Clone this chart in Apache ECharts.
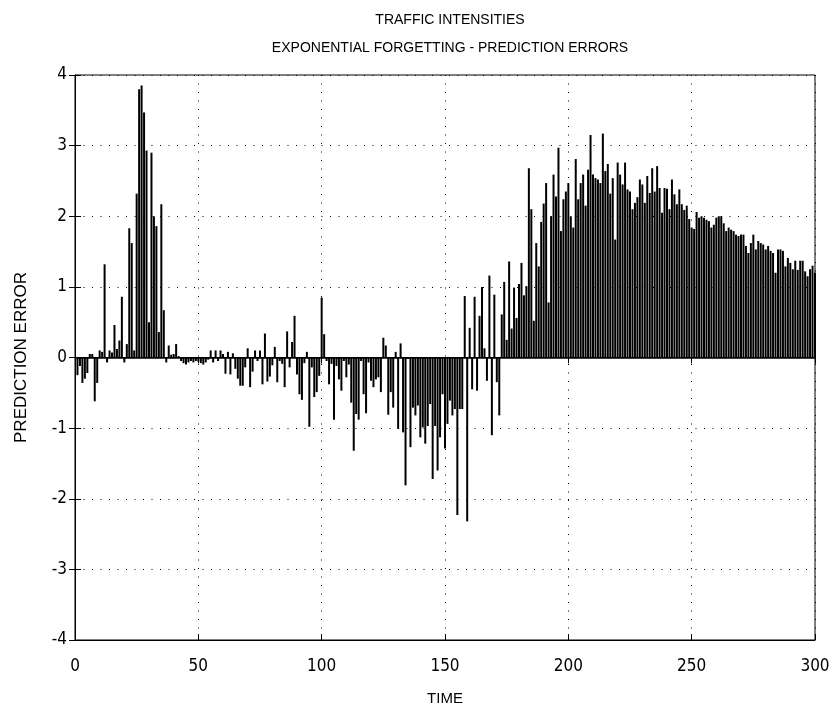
<!DOCTYPE html>
<html>
<head>
<meta charset="utf-8">
<script src="https://cdn.jsdelivr.net/npm/echarts@6/dist/echarts.min.js"></script>
<style>html,body{margin:0;padding:0;background:#fff}#c{width:837px;height:711px}</style>
</head>
<body>
<div id="c"></div>
<script>
const titleLines = ["TRAFFIC INTENSITIES", "EXPONENTIAL FORGETTING - PREDICTION ERRORS"];
const xName = "TIME";
const yName = "PREDICTION ERROR";
const xTicks = [0, 50, 100, 150, 200, 250, 300];
const yTicks = [-4, -3, -2, -1, 0, 1, 2, 3, 4];
// prediction errors for TIME = 1..300
const errors = [
 -0.25, -0.12, -0.36, -0.30, -0.22, 0.05, 0.05, -0.62, -0.36, 0.10,
 0.08, 1.32, -0.07, 0.10, 0.07, 0.46, 0.12, 0.24, 0.86, -0.07,
 0.19, 1.83, 1.62, 0.10, 2.32, 3.80, 3.85, 3.47, 2.93, 0.50,
 2.90, 2.00, 1.86, 0.36, 2.17, 0.67, -0.07, 0.17, 0.04, 0.05,
 0.19, 0.02, -0.05, -0.08, -0.10, -0.07, -0.05, -0.07, -0.05, -0.06,
 -0.08, -0.10, -0.07, -0.03, 0.10, -0.07, 0.10, -0.05, 0.10, 0.05,
 -0.23, 0.08, -0.24, 0.06, -0.16, -0.30, -0.40, -0.40, -0.14, 0.13,
 -0.42, -0.20, 0.10, -0.05, 0.10, -0.38, 0.34, -0.34, -0.27, -0.11,
 0.15, -0.35, -0.05, -0.09, -0.42, 0.37, -0.14, 0.22, 0.59, -0.24,
 -0.52, -0.60, -0.08, 0.08, -0.98, -0.14, -0.56, -0.49, -0.26, 0.85,
 0.33, -0.05, -0.38, -0.09, -0.88, -0.12, -0.31, -0.47, -0.05, -0.28,
 -0.10, -0.64, -1.32, -0.80, -0.88, -0.05, -0.52, -0.79, -0.07, -0.33,
 -0.42, -0.31, -0.28, -0.49, 0.28, 0.17, -0.81, -0.49, -0.71, 0.08,
 -1.01, 0.20, -1.06, -1.81, -0.02, -1.27, -0.71, -0.82, -0.68, -1.13,
 -0.99, -1.22, -0.97, -0.66, -1.72, -0.97, -1.60, -1.13, -0.52, -1.29,
 -0.94, -0.61, -0.82, -0.73, -2.23, -0.73, -0.73, 0.87, -2.32, 0.42,
 -0.45, 0.86, -0.47, 0.59, 1.00, 0.13, -0.33, 1.16, -1.10, 0.89,
 -0.35, -0.82, 0.61, 1.07, 0.25, 1.36, 0.41, 0.99, 0.56, 1.04,
 1.34, 0.88, 1.01, 2.68, 2.10, 0.52, 1.62, 1.29, 1.92, 2.18,
 2.47, 0.78, 2.00, 2.59, 2.28, 2.97, 1.79, 2.24, 2.35, 2.47,
 2.00, 1.84, 2.81, 2.24, 2.47, 2.59, 2.15, 2.66, 3.15, 2.59,
 2.54, 2.52, 2.47, 3.17, 2.64, 2.74, 2.32, 2.54, 1.67, 2.76,
 2.59, 2.45, 2.76, 2.38, 2.35, 2.10, 2.19, 2.27, 2.52, 2.45,
 2.19, 2.57, 2.33, 2.68, 2.35, 2.71, 2.40, 2.05, 2.40, 2.39,
 2.10, 2.52, 2.31, 2.17, 2.38, 2.17, 2.09, 2.15, 1.96, 1.84,
 1.82, 2.06, 1.98, 2.00, 1.98, 1.95, 1.93, 1.84, 1.88, 1.98,
 2.00, 2.00, 1.90, 1.79, 1.84, 1.81, 1.79, 1.74, 1.72, 1.74,
 1.74, 1.58, 1.48, 1.62, 1.74, 1.53, 1.65, 1.62, 1.60, 1.53,
 1.58, 1.51, 1.48, 1.20, 1.53, 1.53, 1.51, 1.29, 1.41, 1.34,
 1.25, 1.37, 1.24, 1.37, 1.37, 1.22, 1.15, 1.25, 1.30, 1.20
];

const FONT = "Liberation Sans";
const NARROW = "'Liberation Sans Narrow', 'DejaVu Sans Condensed', 'Liberation Sans', sans-serif";
const data = errors.map((v, i) => [i + 1, v]);
const dotted = { color: '#000', width: 1, type: [1, 7.5] };
const chart = echarts.init(document.getElementById('c'), null, { renderer: 'canvas' });
const G = { left: 75, right: 22, top: 75, bottom: 70 };
const plotCx = G.left + (837 - G.left - G.right) / 2;

chart.setOption({
  backgroundColor: '#fff',
  animation: false,
  title: [
    { text: titleLines[0], left: plotCx, top: 8, textAlign: 'center',
      textStyle: { fontFamily: FONT, fontSize: 14, fontWeight: 'normal', color: '#000' } },
    { text: titleLines[1], left: plotCx, top: 36, textAlign: 'center',
      textStyle: { fontFamily: FONT, fontSize: 14, fontWeight: 'normal', color: '#000' } }
  ],
  grid: { left: G.left, right: G.right, top: G.top, bottom: G.bottom, show: true,
          borderColor: '#000', borderWidth: 1, backgroundColor: 'transparent' },
  xAxis: [
    { type: 'value', min: xTicks[0], max: xTicks[xTicks.length - 1], interval: 50,
      name: xName, nameLocation: 'middle', nameGap: 51,
      nameTextStyle: { fontFamily: FONT, fontSize: 15, color: '#000' },
      axisLine: { show: true, onZero: false, lineStyle: { color: '#000' } },
      axisTick: { show: true, inside: true, length: 6, lineStyle: { color: '#000' } },
      axisLabel: { fontFamily: NARROW, fontSize: 17, color: '#000', margin: 18 },
      splitLine: { show: true, lineStyle: dotted } },
    { type: 'value', position: 'top', min: xTicks[0], max: xTicks[xTicks.length - 1], interval: 50,
      axisLine: { show: true, lineStyle: { color: '#000' } },
      axisTick: { show: true, inside: true, length: 6, lineStyle: { color: '#000' } },
      axisLabel: { show: false }, splitLine: { show: false } }
  ],
  yAxis: [
    { type: 'value', min: yTicks[0], max: yTicks[yTicks.length - 1], interval: 1,
      name: yName, nameLocation: 'middle', nameGap: 45, nameRotate: 90,
      nameTextStyle: { fontFamily: FONT, fontSize: 17, color: '#000' },
      axisLine: { show: true, lineStyle: { color: '#000' } },
      axisTick: { show: true, inside: true, length: 6, lineStyle: { color: '#000' } },
      axisLabel: { fontFamily: NARROW, fontSize: 17, color: '#000', margin: 8 },
      splitLine: { show: true, lineStyle: dotted } },
    { type: 'value', position: 'right', min: yTicks[0], max: yTicks[yTicks.length - 1], interval: 1,
      axisLine: { show: true, lineStyle: { color: '#000' } },
      axisTick: { show: true, inside: true, length: 6, lineStyle: { color: '#000' } },
      axisLabel: { show: false }, splitLine: { show: false } }
  ],
  series: [{
    type: 'bar',
    xAxisIndex: 0, yAxisIndex: 0,
    data: data,
    barWidth: 2,
    itemStyle: { color: '#000' },
    markLine: {
      silent: true, symbol: 'none', label: { show: false },
      lineStyle: { color: '#000', width: 1.5, type: 'solid' },
      data: [{ yAxis: 0 }]
    }
  }]
});
</script>
</body>
</html>
